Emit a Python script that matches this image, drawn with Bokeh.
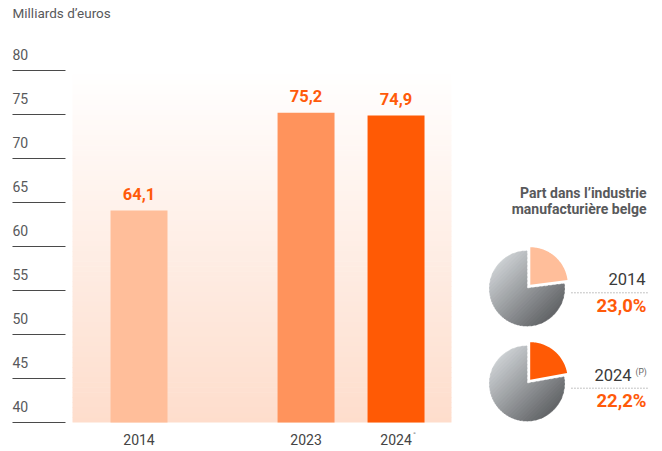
import math
from bokeh.plotting import figure
from bokeh.models import FactorRange, Range1d, ColumnDataSource, LinearScale
from bokeh.core.properties import value
from bokeh.embed import file_html
from bokeh.resources import INLINE

# ---------------- data ----------------
years = ["2014", "2023", "2024"]
year_groups = ["a", "b", "b"]          # 2014 stands apart from 2023/2024
year_notes = ["", "", "°"]
amounts = [64.1, 75.2, 74.9]
amount_labels = ["64,1", "75,2", "74,9"]
bar_colors = ["#FFBE9A", "#FF935C", "#FF5A05"]
y_ticks = [40, 45, 50, 55, 60, 65, 70, 75, 80]
y_tick_labels = [str(t) for t in y_ticks]
y_base = 40
unit_label = "Milliards d’euros"

share_years = ["2014", "2024"]
share_notes = ["", "(P)"]
shares = [23.0, 22.2]
share_labels = ["23,0%", "22,2%"]
share_colors = ["#FFBE9A", "#FF5A05"]
share_title = ["Part dans l’industrie", "manufacturière belge"]

# ---------------- layout / style ----------------
FONT = value("Roboto")
ORANGE_TXT = "#FF5A0A"
GREY_TXT = "#58595B"
W, H = 662, 451
PAD = 1.039
UNIT = 90.0
PX_PER_VAL = 8.8          # vertical pixels per billion euros
BL = 0.4                  # baseline correction (fraction of font size)


def X(px):
    """page-pixel x -> synthetic x of the factor range"""
    return px / UNIT - PAD


def Y(px, size):
    """wanted text baseline (page px) -> anchor y"""
    return px - BL * size


factors = [("A", g, y) for g, y in zip(year_groups, years)] + [("B", "c", " ")]
x_range = FactorRange(factors=factors, range_padding=PAD, range_padding_units="absolute",
                      factor_padding=0, subgroup_padding=0.856, group_padding=0.4218)
y_range = Range1d(80 - 381 / PX_PER_VAL, 80 + 70 / PX_PER_VAL)

p = figure(width=W, height=H, output_backend="svg", toolbar_location=None,
           x_range=x_range, y_range=y_range, x_axis_location=None, y_axis_location=None,
           min_border=0, outline_line_color=None, background_fill_color="white",
           border_fill_color="white")
p.grid.visible = False
p.extra_y_ranges = {"px": Range1d(451, 0)}
p.extra_y_scales = {"px": LinearScale()}

# background gradient panel behind the bars
N = 70
top_px, bot_px = 69.0, 422.0
c_top = (255, 255, 255)
c_bot = (254, 221, 204)
q_top, q_bot, q_col = [], [], []
for i in range(N):
    t0 = top_px + (bot_px - top_px) * i / N
    t1 = top_px + (bot_px - top_px) * (i + 1) / N
    f = (i + 0.5) / N
    col = tuple(int(round(a + (b - a) * f)) for a, b in zip(c_top, c_bot))
    q_top.append(t0)
    q_bot.append(min(t1 + 0.6, bot_px))
    q_col.append("#%02x%02x%02x" % col)
p.quad(left=X(72), right=X(451), top=q_top, bottom=q_bot, fill_color=q_col, line_color=None,
       y_range_name="px")

# y ticks: short lines with labels above
tick_lift = (10 + BL * 14) / PX_PER_VAL
p.segment(x0=X(12), x1=X(65), y0=y_ticks, y1=y_ticks, line_color="#4a4a4a", line_width=1)
p.text(x=[X(12)] * len(y_ticks), y=[t + tick_lift for t in y_ticks], text=y_tick_labels,
       text_baseline="alphabetic", text_align="left",
       text_font=FONT, text_font_size="14px", text_color=GREY_TXT)
p.text(x=[X(12)], y=[Y(18, 13.5)], text=[unit_label], y_range_name="px",
       text_baseline="alphabetic", text_align="left",
       text_font=FONT, text_font_size="13.5px", text_color=GREY_TXT)

# bars
val_lift = (10 + BL * 16.5) / PX_PER_VAL
src = ColumnDataSource(dict(x=factors[:3], top=amounts, color=bar_colors,
                            label_y=[a + val_lift for a in amounts],
                            label=amount_labels, year=years, note=year_notes))
p.vbar(x="x", top="top", bottom=y_base, width=0.633, fill_color="color",
       line_color=None, source=src)
p.text(x="x", y="label_y", text="label", source=src,
       text_align="center", text_baseline="alphabetic", text_font=FONT,
       text_font_size="16.5px", text_font_style="bold", text_color=ORANGE_TXT)
p.text(x=factors[:3], y=[Y(445, 14)] * 3, text=years, y_range_name="px",
       text_align="center", text_baseline="alphabetic", text_font=FONT,
       text_font_size="14px", text_color="#444444")
p.text(x=factors[:3], y=[Y(437, 8)] * 3, text=year_notes, y_range_name="px", x_offset=17,
       text_align="left", text_baseline="alphabetic", text_font=FONT,
       text_font_size="8px", text_color="#777777")

# pie header
p.text(x=[X(646)] * 2, y=[Y(198.5, 14), Y(214.0, 14)], text=share_title, y_range_name="px",
       text_align="right", text_baseline="alphabetic", text_font=FONT,
       text_font_size="14px", text_font_style="bold", text_color=GREY_TXT)

# pies
pie_cx = 526.5
pie_cy = [288.0, 383.0]
R = 37.5
explode = 5.0
light = (204, 208, 211)
dark = (98, 100, 103)


def sector(cx, cy, r, a0, a1, n=90):
    pts = [(cx, cy)]
    for k in range(n + 1):
        a = math.radians(a0 + (a1 - a0) * k / n)
        pts.append((cx + r * math.cos(a), cy - r * math.sin(a)))
    return pts


def clip(poly, nx, ny, c):
    out = []
    n = len(poly)
    for i in range(n):
        P = poly[i]
        Q = poly[(i + 1) % n]
        fp = nx * P[0] + ny * P[1] - c
        fq = nx * Q[0] + ny * Q[1] - c
        if fp >= 0:
            out.append(P)
        if (fp >= 0) != (fq >= 0):
            t = fp / (fp - fq)
            out.append((P[0] + t * (Q[0] - P[0]), P[1] + t * (Q[1] - P[1])))
    return out


gx, gy, gc = [], [], []
ox, oy, oc = [], [], []
K = 28
s2 = math.sqrt(2)
for cy, share, col in zip(pie_cy, shares, share_colors):
    a_split = 90 - 3.6 * share
    grey_poly = sector(pie_cx, cy, R, a_split, -270)
    base = (pie_cx + cy) / s2
    for k in range(K):
        lo = -R + 2 * R * k / K - 0.4
        hi = -R + 2 * R * (k + 1) / K + 0.4
        poly = clip(grey_poly, 1 / s2, 1 / s2, lo + base)
        poly = clip(poly, -1 / s2, -1 / s2, -hi - base)
        if len(poly) < 3:
            continue
        f = (k + 0.5) / K
        c = tuple(int(round(a + (b - a) * f)) for a, b in zip(light, dark))
        gx.append([X(q[0]) for q in poly])
        gy.append([q[1] for q in poly])
        gc.append("#%02x%02x%02x" % c)
    bis = math.radians(90 - 1.8 * share)
    ecx = pie_cx + explode * math.cos(bis)
    ecy = cy - explode * math.sin(bis)
    opoly = sector(ecx, ecy, R, 90, a_split)
    ox.append([X(q[0]) for q in opoly])
    oy.append([q[1] for q in opoly])
    oc.append(col)

p.patches(xs=gx, ys=gy, fill_color=gc, line_color=gc, line_width=0.5, y_range_name="px")
p.patches(xs=ox, ys=oy, fill_color=oc, line_color=None, y_range_name="px")

# pie labels
lab_right = [X(645) if n == "" else X(631) for n in share_notes]
p.text(x=lab_right, y=[Y(285.5, 16.5), Y(381.0, 16.5)], text=share_years, y_range_name="px",
       text_align="right", text_baseline="alphabetic", text_font=FONT,
       text_font_size="16.5px", text_color="#3a3a3a")
p.text(x=[X(635)] * 2, y=[Y(374.5, 8.5)] * 2, text=share_notes, y_range_name="px",
       text_align="left", text_baseline="alphabetic", text_font=FONT,
       text_font_size="8.5px", text_color="#666666")
p.segment(x0=X(571), x1=X(647), y0=[292.3, 387.7], y1=[292.3, 387.7], line_color="#8a8a8a",
          line_width=1, line_dash="1 2", y_range_name="px")
p.text(x=[X(646)] * 2, y=[Y(313.3, 18.5), Y(408.0, 18.5)], text=share_labels, y_range_name="px",
       text_align="right", text_baseline="alphabetic", text_font=FONT,
       text_font_size="18.5px", text_font_style="bold", text_color=ORANGE_TXT)

open("out.html", "w").write(file_html(p, INLINE))
